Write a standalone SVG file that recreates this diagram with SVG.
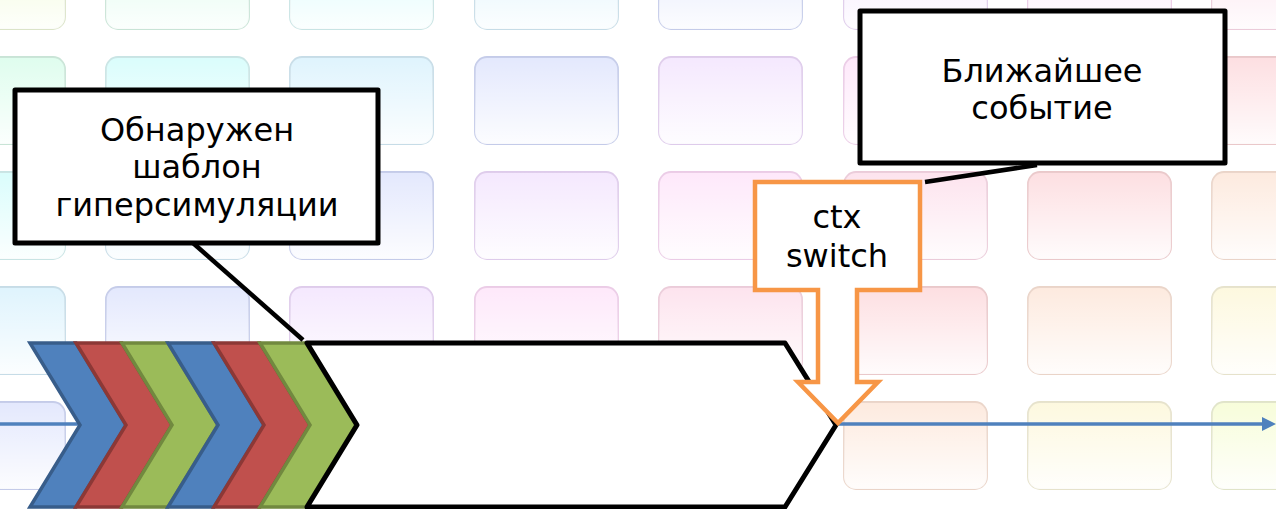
<svg xmlns="http://www.w3.org/2000/svg" width="1276" height="509" viewBox="0 0 1276 509">
<defs>
<linearGradient id="fade" x1="0" y1="0" x2="0" y2="1">
<stop offset="0" stop-color="#fff" stop-opacity="0.05"/>
<stop offset="1" stop-color="#fff" stop-opacity="0.9"/>
</linearGradient>
</defs>
<style>
.tile{stroke-width:1.8}
.gl{fill:url(#fade);stroke:none}
.t0{fill:hsl(80,90%,92%);stroke:hsl(80,35%,84%)}
.t1{fill:hsl(150,90%,93%);stroke:hsl(150,35%,84%)}
.t2{fill:hsl(178,90%,92%);stroke:hsl(178,35%,84%)}
.t3{fill:hsl(200,90%,93%);stroke:hsl(200,40%,84%)}
.t4{fill:hsl(228,90%,94%);stroke:hsl(228,45%,84%)}
.t5{fill:hsl(275,90%,95%);stroke:hsl(275,45%,86%)}
.t6{fill:hsl(310,90%,95%);stroke:hsl(310,45%,86%)}
.t7{fill:hsl(335,90%,94%);stroke:hsl(335,45%,86%)}
.t8{fill:hsl(355,90%,93%);stroke:hsl(355,45%,85%)}
.t9{fill:hsl(22,90%,93%);stroke:hsl(22,45%,85%)}
.t10{fill:hsl(50,90%,93%);stroke:hsl(50,35%,85%)}
.t11{fill:hsl(70,90%,92%);stroke:hsl(70,35%,84%)}
.box{fill:#fff;stroke:#000;stroke-width:5;stroke-linejoin:round}
.lbl{font-family:"DejaVu Sans",Verdana,sans-serif;font-size:32px;fill:#000;text-anchor:middle}
.conn{stroke:#000;stroke-width:4.5;fill:none}
.blue{fill:#4F81BD;stroke:#385D8A;stroke-width:3.5}
.red{fill:#C0504D;stroke:#8C3836;stroke-width:3.5}
.green{fill:#9BBB59;stroke:#71893F;stroke-width:3.5}
.callout{fill:#fff;stroke:#F79646;stroke-width:4.5;stroke-linejoin:miter}
</style>
<g id="background">
<rect class="tile t0" x="-78" y="-58" width="143" height="87" rx="12"/><rect class="gl" x="-78" y="-58" width="143" height="87" rx="12"/>
<rect class="tile t1" x="106" y="-58" width="143" height="87" rx="12"/><rect class="gl" x="106" y="-58" width="143" height="87" rx="12"/>
<rect class="tile t2" x="290" y="-58" width="143" height="87" rx="12"/><rect class="gl" x="290" y="-58" width="143" height="87" rx="12"/>
<rect class="tile t3" x="475" y="-58" width="143" height="87" rx="12"/><rect class="gl" x="475" y="-58" width="143" height="87" rx="12"/>
<rect class="tile t4" x="659" y="-58" width="143" height="87" rx="12"/><rect class="gl" x="659" y="-58" width="143" height="87" rx="12"/>
<rect class="tile t5" x="844" y="-58" width="143" height="87" rx="12"/><rect class="gl" x="844" y="-58" width="143" height="87" rx="12"/>
<rect class="tile t6" x="1028" y="-58" width="143" height="87" rx="12"/><rect class="gl" x="1028" y="-58" width="143" height="87" rx="12"/>
<rect class="tile t7" x="1212" y="-58" width="143" height="87" rx="12"/><rect class="gl" x="1212" y="-58" width="143" height="87" rx="12"/>

<rect class="tile t1" x="-78" y="57" width="143" height="87" rx="12"/><rect class="gl" x="-78" y="57" width="143" height="87" rx="12"/>
<rect class="tile t2" x="106" y="57" width="143" height="87" rx="12"/><rect class="gl" x="106" y="57" width="143" height="87" rx="12"/>
<rect class="tile t3" x="290" y="57" width="143" height="87" rx="12"/><rect class="gl" x="290" y="57" width="143" height="87" rx="12"/>
<rect class="tile t4" x="475" y="57" width="143" height="87" rx="12"/><rect class="gl" x="475" y="57" width="143" height="87" rx="12"/>
<rect class="tile t5" x="659" y="57" width="143" height="87" rx="12"/><rect class="gl" x="659" y="57" width="143" height="87" rx="12"/>
<rect class="tile t6" x="844" y="57" width="143" height="87" rx="12"/><rect class="gl" x="844" y="57" width="143" height="87" rx="12"/>
<rect class="tile t7" x="1028" y="57" width="143" height="87" rx="12"/><rect class="gl" x="1028" y="57" width="143" height="87" rx="12"/>
<rect class="tile t8" x="1212" y="57" width="143" height="87" rx="12"/><rect class="gl" x="1212" y="57" width="143" height="87" rx="12"/>

<rect class="tile t2" x="-78" y="172" width="143" height="87" rx="12"/><rect class="gl" x="-78" y="172" width="143" height="87" rx="12"/>
<rect class="tile t3" x="106" y="172" width="143" height="87" rx="12"/><rect class="gl" x="106" y="172" width="143" height="87" rx="12"/>
<rect class="tile t4" x="290" y="172" width="143" height="87" rx="12"/><rect class="gl" x="290" y="172" width="143" height="87" rx="12"/>
<rect class="tile t5" x="475" y="172" width="143" height="87" rx="12"/><rect class="gl" x="475" y="172" width="143" height="87" rx="12"/>
<rect class="tile t6" x="659" y="172" width="143" height="87" rx="12"/><rect class="gl" x="659" y="172" width="143" height="87" rx="12"/>
<rect class="tile t7" x="844" y="172" width="143" height="87" rx="12"/><rect class="gl" x="844" y="172" width="143" height="87" rx="12"/>
<rect class="tile t8" x="1028" y="172" width="143" height="87" rx="12"/><rect class="gl" x="1028" y="172" width="143" height="87" rx="12"/>
<rect class="tile t9" x="1212" y="172" width="143" height="87" rx="12"/><rect class="gl" x="1212" y="172" width="143" height="87" rx="12"/>

<rect class="tile t3" x="-78" y="287" width="143" height="87" rx="12"/><rect class="gl" x="-78" y="287" width="143" height="87" rx="12"/>
<rect class="tile t4" x="106" y="287" width="143" height="87" rx="12"/><rect class="gl" x="106" y="287" width="143" height="87" rx="12"/>
<rect class="tile t5" x="290" y="287" width="143" height="87" rx="12"/><rect class="gl" x="290" y="287" width="143" height="87" rx="12"/>
<rect class="tile t6" x="475" y="287" width="143" height="87" rx="12"/><rect class="gl" x="475" y="287" width="143" height="87" rx="12"/>
<rect class="tile t7" x="659" y="287" width="143" height="87" rx="12"/><rect class="gl" x="659" y="287" width="143" height="87" rx="12"/>
<rect class="tile t8" x="844" y="287" width="143" height="87" rx="12"/><rect class="gl" x="844" y="287" width="143" height="87" rx="12"/>
<rect class="tile t9" x="1028" y="287" width="143" height="87" rx="12"/><rect class="gl" x="1028" y="287" width="143" height="87" rx="12"/>
<rect class="tile t10" x="1212" y="287" width="143" height="87" rx="12"/><rect class="gl" x="1212" y="287" width="143" height="87" rx="12"/>

<rect class="tile t4" x="-78" y="402" width="143" height="87" rx="12"/><rect class="gl" x="-78" y="402" width="143" height="87" rx="12"/>
<rect class="tile t5" x="106" y="402" width="143" height="87" rx="12"/><rect class="gl" x="106" y="402" width="143" height="87" rx="12"/>
<rect class="tile t6" x="290" y="402" width="143" height="87" rx="12"/><rect class="gl" x="290" y="402" width="143" height="87" rx="12"/>
<rect class="tile t7" x="475" y="402" width="143" height="87" rx="12"/><rect class="gl" x="475" y="402" width="143" height="87" rx="12"/>
<rect class="tile t8" x="659" y="402" width="143" height="87" rx="12"/><rect class="gl" x="659" y="402" width="143" height="87" rx="12"/>
<rect class="tile t9" x="844" y="402" width="143" height="87" rx="12"/><rect class="gl" x="844" y="402" width="143" height="87" rx="12"/>
<rect class="tile t10" x="1028" y="402" width="143" height="87" rx="12"/><rect class="gl" x="1028" y="402" width="143" height="87" rx="12"/>
<rect class="tile t11" x="1212" y="402" width="143" height="87" rx="12"/><rect class="gl" x="1212" y="402" width="143" height="87" rx="12"/>
</g>

<g id="timeline">
<line x1="0" y1="424" x2="1264" y2="424" stroke="#4F81BD" stroke-width="3.5"/>
<polygon points="1262,417 1276,424 1262,431" fill="#4F81BD"/>
</g>

<g id="chevrons">
<polygon class="blue" points="30,343 76,343 126,425 76,507 30,507 80,425"/>
<polygon class="red" points="76,343 122,343 172,425 122,507 76,507 126,425"/>
<polygon class="green" points="122,343 168,343 218,425 168,507 122,507 172,425"/>
<polygon class="blue" points="168,343 214,343 264,425 214,507 168,507 218,425"/>
<polygon class="red" points="214,343 260,343 310,425 260,507 214,507 264,425"/>
<polygon class="green" points="260,343 306,343 356,425 306,507 260,507 310,425"/>
</g>

<g id="hypersim-block">
<polygon class="box" stroke-linejoin="miter" points="307,343 785,343 836,425 785,507 307,507 357,425"/>
</g>

<g id="ctx-switch">
<polygon class="callout" points="755,182 920,182 920,290 857,290 857,382 878,382 838,423 798,382 818,382 818,290 755,290"/>
<text class="lbl" x="837" y="228">ctx</text>
<text class="lbl" x="837" y="267">switch</text>
</g>

<g id="box-pattern">
<rect class="box" x="15" y="90" width="363" height="153"/>
<text class="lbl" x="197" y="141">Обнаружен</text>
<text class="lbl" x="197" y="178">шаблон</text>
<text class="lbl" x="197" y="216">гиперсимуляции</text>
</g>

<g id="box-event">
<rect class="box" x="860" y="11" width="365" height="152"/>
<text class="lbl" x="1042" y="82">Ближайшее</text>
<text class="lbl" x="1042" y="119">событие</text>
</g>

<g id="connectors">
<line class="conn" x1="193" y1="243" x2="303" y2="340"/>
<line class="conn" x1="1037" y1="165" x2="925" y2="182"/>
</g>
</svg>
